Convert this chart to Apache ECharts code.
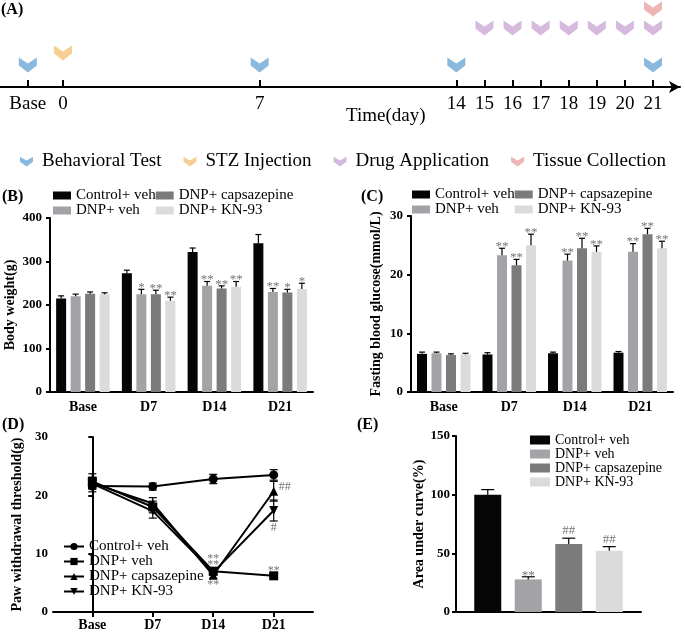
<!DOCTYPE html>
<html>
<head>
<meta charset="utf-8">
<script src="https://cdn.jsdelivr.net/npm/echarts@6/dist/echarts.min.js"></script>
<style>
html, body { margin: 0; padding: 0; background: #fff; }
#main { width: 685px; height: 634px; }
</style>
</head>
<body>
<div id="main"></div>
<script>
// ---- (A) timeline ----
var behavioralDays = [-1.25, 7, 14, 21];   // -1.25 = "Base"
var stzDays = [0];
var drugDays = [15, 16, 17, 18, 19, 20, 21];
var tissueDays = [21];
var timeTicks = [-1.25, 0, 7, 14, 15, 16, 17, 18, 19, 20, 21];

// ---- shared ----
var groups = ['Control+ veh', 'DNP+ veh', 'DNP+ capsazepine', 'DNP+ KN-93'];
var timepoints = ['Base', 'D7', 'D14', 'D21'];

// ---- (B) body weight (g) ----
var weightMean = [
    [215, 273, 322, 342],
    [220, 225, 244, 230],
    [226, 225, 238, 229],
    [225, 210, 242, 237]
];
var weightErr = [
    [6, 7, 9, 20],
    [5, 11, 10, 8],
    [4, 9, 6, 7],
    [3, 8, 12, 13]
];
var weightSig = [
    ['', '', '', ''],
    ['', '*', '**', '**'],
    ['', '**', '**', '*'],
    ['', '**', '**', '*']
];

// ---- (C) fasting blood glucose (mmol/L) ----
var glucoseMean = [
    [6.5, 6.4, 6.6, 6.7],
    [6.6, 23.3, 22.4, 23.9],
    [6.3, 21.6, 24.5, 26.9],
    [6.4, 25.0, 23.9, 24.5]
];
var glucoseErr = [
    [0.3, 0.3, 0.2, 0.2],
    [0.2, 1.2, 1.1, 1.4],
    [0.2, 1.0, 1.7, 1.0],
    [0.2, 1.9, 1.0, 1.2]
];
var glucoseSig = [
    ['', '', '', ''],
    ['', '**', '**', '**'],
    ['', '**', '**', '**'],
    ['', '**', '**', '**']
];

// ---- (D) paw withdrawal threshold (g) ----
var pwtMean = [
    [21.6, 21.5, 22.8, 23.5],
    [22.4, 18.0, 7.0, 6.2],
    [22.1, 18.6, 6.3, 20.7],
    [22.0, 17.3, 6.8, 17.4]
];
var pwtErr = [
    [1.0, 0.6, 0.8, 0.9],
    [1.3, 1.0, 0.5, 0.4],
    [1.0, 1.0, 0.5, 1.7],
    [0.8, 1.2, 0.5, 1.8]
];
var pwtSig = [
    ['', '', '', ''],
    ['', '', '**', '**'],
    ['', '', '**', '##'],
    ['', '', '**', '#']
];

// ---- (E) area under curve (%) ----
var aucMean = [100, 27.8, 58, 52.3];
var aucErr = [4.3, 2.2, 4.9, 3.4];
var aucSig = ['', '**', '##', '##'];

// ---------------------------------------------------------------
var SERIF = 'Liberation Serif';
var chevron = 'path://M0,0 L10,6 L20,0 L20,8 L10,15 L0,8 Z';
var barColors = ['#050505', '#a3a3a7', '#7b7b7b', '#dbdbdb'];
var sigColor = '#777';
// where the D marks sit relative to their point
var pwtPlace = [
    ['', '', '', ''],
    ['up', 'up', 'up', 'up'],
    ['', '', 'down', 'right'],
    ['', '', 'up2', 'down']
];
var symbolsD = ['circle', 'rect', 'triangle', 'triangle'];

var myChart = echarts.init(document.getElementById('main'));

function stripName(n) { return n.split('|').pop(); }

function yAxis(gi, max, interval, name, gap, margin) {
    return {
        type: 'value', gridIndex: gi, min: 0, max: max, interval: interval,
        name: name, nameLocation: 'middle', nameGap: gap,
        nameTextStyle: { fontFamily: SERIF, fontWeight: 'bold', fontSize: 14, color: '#000' },
        axisLine: { show: true, lineStyle: { color: '#000', width: 2 } },
        axisTick: { show: true, length: 4, lineStyle: { color: '#000', width: 2 } },
        axisLabel: { fontFamily: SERIF, fontWeight: 'bold', fontSize: 13, color: '#000', margin: margin },
        splitLine: { show: false }
    };
}

function catAxis(gi) {
    return {
        type: 'category', gridIndex: gi, data: timepoints,
        axisLine: { lineStyle: { color: '#000', width: 2 } },
        axisTick: { alignWithLabel: true, length: 5, lineStyle: { color: '#000', width: 2 } },
        axisLabel: { fontFamily: SERIF, fontWeight: 'bold', fontSize: 14, color: '#000', margin: 8 }
    };
}

function barLegend(prefix, left, top) {
    return {
        data: groups.map(function (g) { return prefix + g; }),
        formatter: stripName,
        orient: 'vertical', left: left, top: top, height: 34, padding: 0,
        itemGap: 0, itemWidth: 18, itemHeight: 8, icon: 'rect',
        selectedMode: false,
        textStyle: { fontFamily: SERIF, fontSize: 15, lineHeight: 14, color: '#000' }
    };
}

// error bars (upwards) + significance marks above grouped bars
function barErrors(axisIdx, rows, sigs, step, cap, fontSize) {
    return {
        type: 'custom', xAxisIndex: axisIdx, yAxisIndex: axisIdx, z: 5, silent: true,
        data: rows,
        renderItem: function (params, api) {
            var k = api.value(0), m = api.value(1), e = api.value(2);
            var off = step(params.dataIndex);
            var p0 = api.coord([k, m]);
            var p1 = api.coord([k, m + e]);
            var x = p0[0] + off;
            var lineStyle = { stroke: '#000', lineWidth: 1.2 };
            var children = [
                { type: 'line', shape: { x1: x, y1: p0[1], x2: x, y2: p1[1] }, style: lineStyle },
                { type: 'line', shape: { x1: x - cap / 2, y1: p1[1], x2: x + cap / 2, y2: p1[1] }, style: lineStyle }
            ];
            var s = sigs[params.dataIndex];
            if (s) {
                children.push({
                    type: 'text',
                    style: {
                        text: s, x: x, y: p1[1] + (s.charAt(0) === '*' ? 5 : -1),
                        align: 'center', verticalAlign: 'bottom',
                        fontFamily: SERIF, fontSize: fontSize, fill: sigColor
                    }
                });
            }
            return { type: 'group', children: children };
        }
    };
}

var series = [];

// (A) chevrons
function lane(name, days, level, color) {
    series.push({
        type: 'scatter', name: name, xAxisIndex: 0, yAxisIndex: 0,
        symbol: chevron, symbolSize: [18, 15], silent: true,
        itemStyle: { color: color },
        data: days.map(function (d) { return [d, level]; })
    });
}
lane('Behavioral Test', behavioralDays, 22, '#6ea8d4');
lane('STZ Injection', stzDays, 34, '#f2c378');
lane('Drug Application', drugDays, 59, '#cba9d6');
lane('Tissue Collection', tissueDays, 78, '#e9a2a3');

// (B) and (C) bars
groups.forEach(function (g, gi) {
    series.push({
        type: 'bar', name: 'B|' + g, xAxisIndex: 1, yAxisIndex: 1,
        data: weightMean[gi], barWidth: 10, barGap: '45%',
        itemStyle: { color: barColors[gi] }
    });
});
groups.forEach(function (g, gi) {
    series.push({
        type: 'bar', name: 'C|' + g, xAxisIndex: 2, yAxisIndex: 2,
        data: glucoseMean[gi], barWidth: 10, barGap: '45%',
        itemStyle: { color: barColors[gi] }
    });
});
groups.forEach(function (g, gi) {
    var off = function () { return (gi - 1.5) * 14.5; };
    series.push(barErrors(1, weightMean[gi].map(function (m, k) { return [k, m, weightErr[gi][k]]; }),
        weightSig[gi], off, 6, 13));
    series.push(barErrors(2, glucoseMean[gi].map(function (m, k) { return [k, m, glucoseErr[gi][k]]; }),
        glucoseSig[gi], off, 6, 13));
});

// (D) lines
groups.forEach(function (g, gi) {
    series.push({
        type: 'line', name: 'D|' + g, xAxisIndex: 3, yAxisIndex: 3,
        data: pwtMean[gi].map(function (v, k) { return [k, v]; }),
        symbol: symbolsD[gi], symbolSize: 9, symbolRotate: gi === 3 ? 180 : 0,
        lineStyle: { color: '#000', width: 2 },
        itemStyle: { color: '#000' },
        z: 3
    });
    series.push({
        type: 'custom', xAxisIndex: 3, yAxisIndex: 3, z: 4, silent: true,
        data: pwtMean[gi].map(function (v, k) { return [k, v, pwtErr[gi][k]]; }),
        renderItem: function (params, api) {
            var k = api.value(0), m = api.value(1), e = api.value(2);
            var pm = api.coord([k, m]);
            var pt = api.coord([k, m + e]);
            var pb = api.coord([k, m - e]);
            var x = pm[0];
            var ls = { stroke: '#000', lineWidth: 1.2 };
            var kids = [
                { type: 'line', shape: { x1: x, y1: pt[1], x2: x, y2: pb[1] }, style: ls },
                { type: 'line', shape: { x1: x - 4, y1: pt[1], x2: x + 4, y2: pt[1] }, style: ls },
                { type: 'line', shape: { x1: x - 4, y1: pb[1], x2: x + 4, y2: pb[1] }, style: ls }
            ];
            var s = pwtSig[gi][params.dataIndex];
            var place = pwtPlace[gi][params.dataIndex];
            if (s) {
                var st = { text: s, x: x, fontFamily: SERIF, fontSize: 12, fill: sigColor, align: 'center' };
                if (place === 'up') { st.y = pt[1] + 3; st.verticalAlign = 'bottom'; }
                else if (place === 'up2') { st.y = pt[1] - 5; st.verticalAlign = 'bottom'; }
                else if (place === 'down') { st.y = pb[1] + 1; st.verticalAlign = 'top'; }
                else { st.x = x + 5; st.y = pm[1] - 4; st.align = 'left'; st.verticalAlign = 'middle'; }
                kids.push({ type: 'text', style: st });
            }
            return { type: 'group', children: kids };
        }
    });
});

// (E) bars, all on one category
groups.forEach(function (g, gi) {
    series.push({
        type: 'bar', name: 'E|' + g, xAxisIndex: 4, yAxisIndex: 4,
        data: [aucMean[gi]], barWidth: 27, barGap: '50%',
        itemStyle: { color: barColors[gi] }
    });
});
series.push(barErrors(4, aucMean.map(function (m, k) { return [0, m, aucErr[k]]; }),
    aucSig, function (i) { return (i - 1.5) * 40.5; }, 13, 13));

var titleFont = { fontFamily: SERIF, fontWeight: 'bold', fontSize: 16, color: '#000' };

option = {
    animation: false,
    backgroundColor: '#fff',
    title: [
        { text: '(A)', left: 1, top: 2, textStyle: titleFont, padding: 0 },
        { text: '(B)', left: 2, top: 189, textStyle: titleFont, padding: 0 },
        { text: '(C)', left: 361, top: 189, textStyle: titleFont, padding: 0 },
        { text: '(D)', left: 2, top: 417, textStyle: titleFont, padding: 0 },
        { text: '(E)', left: 357, top: 417, textStyle: titleFont, padding: 0 },
        { text: 'Time(day)', left: 346, top: 107, padding: 0,
          textStyle: { fontFamily: SERIF, fontWeight: 'normal', fontSize: 19, color: '#000' } }
    ],
    legend: [
        {
            data: ['Behavioral Test', 'STZ Injection', 'Drug Application', 'Tissue Collection'],
            left: 20, top: 152, padding: 0, itemGap: 22, itemWidth: 13, itemHeight: 12,
            icon: chevron, selectedMode: false,
            textStyle: { fontFamily: SERIF, fontSize: 19, color: '#000', padding: [0, 0, 0, 4] }
        },
        barLegend('B|', 53, 188),
        barLegend('C|', 412, 187),
        {
            data: groups.map(function (g) { return 'D|' + g; }),
            formatter: stripName,
            orient: 'vertical', left: 63, top: 539, padding: 0, itemGap: 0,
            itemWidth: 20, itemHeight: 9, selectedMode: false,
            textStyle: { fontFamily: SERIF, fontSize: 15, lineHeight: 14.3, color: '#000' }
        },
        {
            data: groups.map(function (g) { return 'E|' + g; }),
            formatter: stripName,
            orient: 'vertical', left: 530, top: 433, padding: 0, itemGap: 0,
            itemWidth: 20, itemHeight: 9, icon: 'rect', selectedMode: false,
            textStyle: { fontFamily: SERIF, fontSize: 14, lineHeight: 13.7, color: '#000' }
        }
    ],
    grid: [
        { left: 0, top: 0, width: 680, height: 87, outerBoundsMode: 'none' },
        { left: 50, top: 218, width: 263, height: 174, outerBoundsMode: 'none' },
        { left: 411, top: 216, width: 262, height: 176, outerBoundsMode: 'none' },
        { left: 53, top: 437, width: 260, height: 175, outerBoundsMode: 'none' },
        { left: 456, top: 436, width: 185, height: 176, outerBoundsMode: 'none' }
    ],
    xAxis: [
        {
            type: 'value', gridIndex: 0, min: -2.24, max: 21.96,
            axisLine: { show: true, symbol: ['none', 'arrow'], symbolSize: [9, 11], lineStyle: { color: '#000', width: 2 } },
            axisTick: { show: true, inside: true, length: 7, customValues: timeTicks, lineStyle: { color: '#000', width: 2 } },
            axisLabel: {
                customValues: timeTicks, margin: 8, fontFamily: SERIF, fontSize: 19, color: '#000',
                formatter: function (v) { return v < 0 ? 'Base' : String(v); }
            },
            splitLine: { show: false }
        },
        catAxis(1),
        catAxis(2),
        {
            type: 'value', gridIndex: 3, min: -0.65, max: 3.65,
            axisLine: { show: true, lineStyle: { color: '#000', width: 2 } },
            axisTick: { show: true, length: 5, customValues: [0, 1, 2, 3], lineStyle: { color: '#000', width: 2 } },
            axisLabel: {
                customValues: [0, 1, 2, 3], margin: 6, fontFamily: SERIF, fontWeight: 'bold', fontSize: 14, color: '#000',
                formatter: function (v) { return timepoints[Math.round(v)]; }
            },
            splitLine: { show: false }
        },
        {
            type: 'category', gridIndex: 4, data: [''],
            axisLine: { lineStyle: { color: '#000', width: 2 } },
            axisTick: { show: false }, axisLabel: { show: false }
        }
    ],
    yAxis: [
        { type: 'value', gridIndex: 0, min: 0, max: 87, show: false },
        yAxis(1, 400, 100, 'Body weight(g)', 33, 8),
        yAxis(2, 30, 10, 'Fasting blood glucose(mmol/L)', 28, 8),
        yAxis(3, 30, 10, 'Paw withdrawal threshold(g)', 29, 5),
        yAxis(4, 150, 50, 'Area under curve(%)', 28, 6)
    ],
    series: series
};

myChart.setOption(option, true);
</script>
</body>
</html>
